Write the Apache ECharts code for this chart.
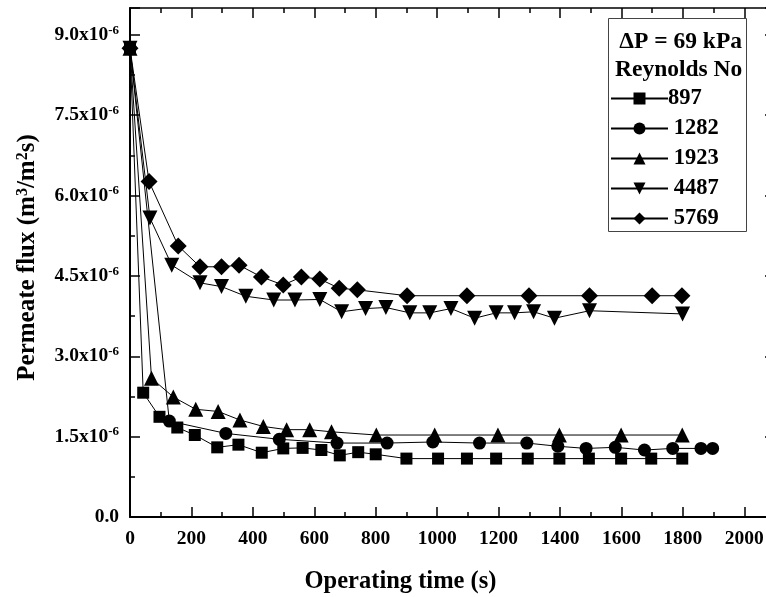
<!DOCTYPE html>
<html>
<head>
<meta charset="utf-8">
<script src="https://cdn.jsdelivr.net/npm/echarts@6/dist/echarts.min.js"></script>
<style>
  html, body { margin: 0; padding: 0; background: #fff; }
  #chart { width: 766px; height: 597px; }
</style>
</head>
<body>
<div id="chart"></div>
<script>
// Permeate flux vs operating time at ΔP = 69 kPa, one series per Reynolds number.
// Flux values are in units of 1e-6 m3/(m2 s); times in seconds.
const reynolds = ['897', '1282', '1923', '4487', '5769'];

const time897 = [0, 43, 96, 154, 211, 284, 353, 429, 499, 562, 623, 683, 743, 800, 900, 1003, 1097, 1192, 1295, 1398, 1494, 1599, 1697, 1798];
const flux897 = [8.75, 2.32, 1.87, 1.67, 1.53, 1.30, 1.35, 1.20, 1.28, 1.29, 1.25, 1.15, 1.21, 1.17, 1.09, 1.09, 1.09, 1.09, 1.09, 1.09, 1.09, 1.09, 1.09, 1.09];

const time1282 = [0, 128, 312, 486, 674, 837, 986, 1138, 1292, 1393, 1485, 1580, 1675, 1767, 1859, 1897];
const flux1282 = [8.75, 1.79, 1.56, 1.45, 1.38, 1.38, 1.40, 1.38, 1.38, 1.32, 1.28, 1.30, 1.25, 1.28, 1.28, 1.28];

const time1923 = [0, 70, 141, 214, 287, 358, 434, 510, 585, 656, 802, 992, 1198, 1398, 1599, 1798];
const flux1923 = [8.75, 2.59, 2.24, 2.01, 1.97, 1.81, 1.69, 1.63, 1.63, 1.59, 1.53, 1.53, 1.53, 1.53, 1.53, 1.53];

const time4487 = [0, 65, 136, 228, 298, 377, 468, 537, 618, 689, 767, 833, 911, 976, 1045, 1122, 1192, 1252, 1314, 1382, 1496, 1799];
const flux4487 = [8.75, 5.58, 4.70, 4.37, 4.30, 4.12, 4.05, 4.05, 4.06, 3.83, 3.89, 3.91, 3.81, 3.81, 3.89, 3.71, 3.81, 3.81, 3.83, 3.71, 3.85, 3.79];

const time5769 = [0, 62, 157, 228, 298, 355, 428, 499, 558, 618, 681, 740, 902, 1097, 1299, 1496, 1700, 1797];
const flux5769 = [8.75, 6.26, 5.06, 4.67, 4.67, 4.70, 4.48, 4.33, 4.48, 4.44, 4.27, 4.24, 4.13, 4.13, 4.13, 4.13, 4.13, 4.13];

const xTicks = { min: 0, max: 2100, interval: 200 };
const yTicks = { min: 0, max: 9.5, interval: 1.5 };

const FONT = '"Liberation Serif", "Times New Roman", serif';

function pairs(xs, ys) { return xs.map((x, i) => [x, ys[i]]); }

const markers = [
  { symbol: 'rect', size: 12, rotate: 0 },
  { symbol: 'circle', size: 13, rotate: 0 },
  { symbol: 'triangle', size: 15, rotate: 0 },
  { symbol: 'triangle', size: 15, rotate: 180 },
  { symbol: 'diamond', size: 17, rotate: 0 }
];
const seriesData = [
  pairs(time897, flux897),
  pairs(time1282, flux1282),
  pairs(time1923, flux1923),
  pairs(time4487, flux4487),
  pairs(time5769, flux5769)
];

const series = reynolds.map((name, i) => ({
  name: name,
  type: 'line',
  xAxisIndex: 0,
  yAxisIndex: 0,
  data: seriesData[i],
  symbol: markers[i].symbol,
  symbolSize: markers[i].size,
  symbolRotate: markers[i].rotate,
  clip: false,
  itemStyle: { color: '#000' },
  lineStyle: { color: '#000', width: 1 },
  emphasis: { disabled: true },
  animation: false
}));

function xAxisCfg(position, showLabels) {
  return {
    type: 'value',
    position: position,
    min: xTicks.min, max: xTicks.max, interval: xTicks.interval,
    axisLine: { show: true, onZero: false, lineStyle: { color: '#000', width: 2 } },
    axisTick: { show: true, inside: true, length: 10, lineStyle: { color: '#000', width: 1.5 } },
    minorTick: { show: true, splitNumber: 2, length: 5, lineStyle: { color: '#000', width: 1.5 } },
    splitLine: { show: false },
    axisLabel: {
      show: showLabels, margin: 12, showMaxLabel: false,
      formatter: function (v) { return String(v); },
      color: '#000', fontFamily: FONT, fontWeight: 'bold', fontSize: 19.5
    }
  };
}

function yAxisCfg(position, showLabels) {
  return {
    type: 'value',
    position: position,
    min: yTicks.min, max: yTicks.max, interval: yTicks.interval,
    axisLine: { show: true, onZero: false, lineStyle: { color: '#000', width: 2 } },
    axisTick: { show: true, inside: true, length: 10, lineStyle: { color: '#000', width: 1.5 } },
    minorTick: { show: true, splitNumber: 2, length: 5, lineStyle: { color: '#000', width: 1.5 } },
    splitLine: { show: false },
    axisLabel: {
      show: showLabels, margin: 11, showMaxLabel: false,
      formatter: function (v) {
        if (Math.abs(v) < 1e-9) return '{m|0.0}';
        return '{m|' + v.toFixed(1) + 'x10}{s|-6}';
      },
      rich: {
        m: { color: '#000', fontFamily: FONT, fontWeight: 'bold', fontSize: 19.5, lineHeight: 22 },
        s: { color: '#000', fontFamily: FONT, fontWeight: 'bold', fontSize: 13, lineHeight: 12, verticalAlign: 'top' }
      }
    }
  };
}

const yName = yAxisCfg('left', true);
yName.name = 'Permeate flux (m{s|3}/m{s|2}s)';
yName.nameLocation = 'middle';
yName.nameGap = 90;
yName.nameTextStyle = {
  color: '#000', fontFamily: FONT, fontWeight: 'bold', fontSize: 25,
  padding: [0, 0, 0, 10],
  rich: {
    s: { color: '#000', fontFamily: FONT, fontWeight: 'bold', fontSize: 16, lineHeight: 15, verticalAlign: 'top' }
  }
};

const xName = xAxisCfg('bottom', true);
xName.name = 'Operating time (s)';
xName.nameLocation = 'middle';
xName.nameGap = 52;
xName.nameTextStyle = {
  color: '#000', fontFamily: FONT, fontWeight: 'bold', fontSize: 24.5,
  verticalAlign: 'top',
  padding: [0, 104, 0, 0]
};

const xTop = xAxisCfg('top', false);
xTop.axisLine.lineStyle.width = 1.5;
const yRight = yAxisCfg('right', false);
yRight.axisLine.lineStyle.width = 1.5;

const option = {
  backgroundColor: '#fff',
  animation: false,
  grid: { left: 130, right: -9, top: 8, bottom: 80, outerBoundsMode: 'none' },
  xAxis: [xName, xTop],
  yAxis: [yName, yRight],
  legend: {
    orient: 'vertical',
    left: 610,
    top: 87,
    padding: 0,
    itemWidth: 57,
    itemHeight: 15,
    itemGap: 7,
    data: reynolds,
    selectedMode: false,
    formatter: function (name) { return name === '897' ? name : ' ' + name; },
    textStyle: { color: '#000', fontFamily: FONT, fontWeight: 'bold', fontSize: 22.5, lineHeight: 22, padding: [0, 0, 0, -5] }
  },
  graphic: [
    {
      type: 'rect', z: 10, silent: true,
      shape: { x: 608.5, y: 18.5, width: 138, height: 213 },
      style: { fill: 'rgba(0,0,0,0)', stroke: '#444', lineWidth: 1 }
    },
    {
      type: 'text', z: 11, silent: true,
      style: { x: 742, y: 42, text: 'ΔP = 69 kPa', align: 'right', verticalAlign: 'middle',
        fill: '#000', font: 'bold 23.5px ' + FONT }
    },
    {
      type: 'text', z: 11, silent: true,
      style: { x: 615, y: 70, text: 'Reynolds No', align: 'left', verticalAlign: 'middle',
        fill: '#000', font: 'bold 23.5px ' + FONT }
    }
  ],
  series: series
};

const chart = echarts.init(document.getElementById('chart'), null, { renderer: 'canvas' });
chart.setOption(option);
</script>
</body>
</html>
